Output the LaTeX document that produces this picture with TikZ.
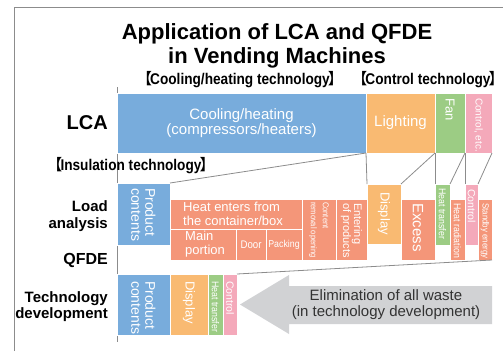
\documentclass[tikz,border=0pt]{standalone}
\usepackage{fontspec}
\setmainfont{Liberation Sans}
\newfontfamily\cjkfont{Noto Sans CJK JP}
\newfontfamily\narrowfont[FakeStretch=0.88]{Liberation Sans}
\usetikzlibrary{positioning}
\definecolor{lcablue}{HTML}{78ACDC}
\definecolor{lcaorange}{HTML}{F9BA72}
\definecolor{lcagreen}{HTML}{9CCC84}
\definecolor{lcapink}{HTML}{F4A9BA}
\definecolor{lcasalmon}{HTML}{F49679}
\definecolor{wastegray}{HTML}{D1D2D4}
\definecolor{rulegray}{HTML}{8C8C8C}
\newcommand\lcasize[1]{\fontsize{#1}{#1}\selectfont}
\newcommand\lcahead[1]{{\cjkfont\mdseries 【}\kern-0.12em#1\kern-0.12em{\cjkfont\mdseries 】}}
\begin{document}
\begin{tikzpicture}[x=1pt, y=-1pt,
  box/.style={fill=#1, draw=white, line width=0.6pt, outer sep=0pt, inner sep=0pt, anchor=north west},
  vlab/.style={text=white, rotate=-90, anchor=west, align=left, inner xsep=5pt, inner ysep=0pt},
  hlab/.style={text=white, align=center, inner sep=0pt},
  rowlab/.style={anchor=east, align=right, inner sep=0pt, font=\bfseries\fontsize{15}{17}\selectfont},
  headlab/.style={inner sep=0pt, font=\narrowfont\bfseries\fontsize{15.5}{18}\selectfont},
  link/.style={draw=rulegray, line width=0.8pt}]
\useasboundingbox (0,0) rectangle (503,351);
\draw[rulegray, line width=0.8pt] (14,351) -- (14,7) -- (503,7);
\draw[link] (117,87) -- (117,342);

\node[align=center, inner sep=0pt, font=\bfseries\fontsize{22}{24}\selectfont] (title) at (277,46) {Application of LCA and QFDE\\in Vending Machines};
\node[headlab] (coolhead) at (240,80) {\lcahead{Cooling/heating technology}};
\node[headlab] (ctlhead) at (428,80) {\lcahead{Control technology}};
\node[headlab] (inshead) at (131,166) {\lcahead{Insulation technology}};

\node[rowlab, font=\bfseries\lcasize{20}] (lca) at (108,123) {LCA};
\node[rowlab] (load) at (108,216) {Load\\analysis};
\node[rowlab, font=\bfseries\lcasize{16}] (qfde) at (108,260) {QFDE};
\node[rowlab, font=\bfseries\fontsize{15}{16}\selectfont] (techdev) at (108,307) {Technology\\development};

% LCA row
\node[box=lcablue, minimum width=249pt, minimum height=60pt] (cool) at (117,93) {};
\node[box=lcaorange, minimum width=69pt, minimum height=60pt, right=0pt of cool] (light) {};
\node[box=lcagreen, minimum width=30pt, minimum height=60pt, right=0pt of light] (fan) {};
\node[box=lcapink, minimum width=27pt, minimum height=60pt, right=0pt of fan] (ctl) {};
\node[hlab, font=\lcasize{15}] (cooltxt) at (cool.center) {Cooling/heating\\(compressors/heaters)};
\node[hlab, font=\lcasize{15}] (lighttxt) at (light.center) {Lighting};
\node[vlab, font=\lcasize{13}] (fantxt) at (fan.north) {Fan};
\node[vlab, font=\lcasize{10}] (ctltxt) at (ctl.north) {Control, etc.};

% load analysis row
\node[box=lcablue, minimum width=53pt, minimum height=62pt] (pcA) at (117,183) {};
\node[box=lcasalmon, minimum width=132pt, minimum height=30pt] (heat) at (170,199) {};
\node[box=lcasalmon, minimum width=66pt, minimum height=31pt] (main) at (170,229) {};
\node[box=lcasalmon, minimum width=30pt, minimum height=31pt] (door) at (236,229) {};
\node[box=lcasalmon, minimum width=36pt, minimum height=31pt] (pack) at (266,229) {};
\node[box=lcasalmon, minimum width=34pt, minimum height=61pt] (removal) at (302,199) {};
\node[box=lcasalmon, minimum width=31pt, minimum height=61pt] (entering) at (336,199) {};
\node[box=lcaorange, minimum width=34pt, minimum height=60pt] (dispA) at (367,184) {};
\node[box=lcasalmon, minimum width=34pt, minimum height=61pt] (excess) at (401,199) {};
\node[box=lcagreen, minimum width=15pt, minimum height=61pt] (htA) at (435,184) {};
\node[box=lcasalmon, minimum width=15pt, minimum height=61pt] (rad) at (450,199) {};
\node[box=lcapink, minimum width=13pt, minimum height=61pt] (ctlA) at (465,184) {};
\node[box=lcasalmon, minimum width=14pt, minimum height=61pt] (standby) at (478,199) {};

\node[vlab, font=\lcasize{14}] (pcAtxt) at (pcA.north) {Product\\contents};
\node[hlab, anchor=west, align=left, font=\fontsize{13}{14}\selectfont] (heattxt) at ([xshift=13pt]heat.west) {Heat enters from\\the container/box};
\node[hlab, anchor=west, align=left, font=\fontsize{13}{14}\selectfont] (maintxt) at ([xshift=15pt]main.west) {Main\\portion};
\node[hlab, font=\narrowfont\lcasize{11}] (doortxt) at (door.center) {Door};
\node[hlab, font=\narrowfont\lcasize{10}] (packtxt) at (pack.center) {Packing};
\node[vlab, inner xsep=3pt, font=\narrowfont\fontsize{8.5}{12}\selectfont] (removaltxt) at (removal.north) {Content\\removal opening};
\node[vlab, inner xsep=4pt, font=\lcasize{11}] (enteringtxt) at (entering.north) {Entering\\of products};
\node[vlab, font=\lcasize{13}] (dispAtxt) at ([yshift=-3pt]dispA.north) {Display};
\node[vlab, inner xsep=4pt, font=\lcasize{15}] (excesstxt) at (excess.north) {Excess};
\node[vlab, inner xsep=4pt, font=\narrowfont\lcasize{10}] (htAtxt) at (htA.north) {Heat transfer};
\node[vlab, inner xsep=4pt, font=\narrowfont\lcasize{10}] (radtxt) at (rad.north) {Heat radiation};
\node[vlab, font=\lcasize{10.5}] (ctlAtxt) at (ctlA.north) {Control};
\node[vlab, inner xsep=4pt, font=\narrowfont\lcasize{9}] (standbytxt) at (standby.north) {Standby energy};

% technology development row
\node[box=lcablue, minimum width=53pt, minimum height=61pt] (pcB) at (117,274) {};
\node[box=lcaorange, minimum width=38pt, minimum height=61pt, right=0pt of pcB] (dispB) {};
\node[box=lcagreen, minimum width=15pt, minimum height=61pt, right=0pt of dispB] (htB) {};
\node[box=lcapink, minimum width=14pt, minimum height=61pt, right=0pt of htB] (ctlB) {};
\node[vlab, inner xsep=7pt, font=\lcasize{14}] (pcBtxt) at (pcB.north) {Product\\contents};
\node[vlab, inner xsep=7pt, font=\lcasize{13}] (dispBtxt) at (dispB.north) {Display};
\node[vlab, inner xsep=7pt, font=\narrowfont\lcasize{10}] (htBtxt) at (htB.north) {Heat transfer};
\node[vlab, inner xsep=7pt, font=\lcasize{10.5}] (ctlBtxt) at (ctlB.north) {Control};

\fill[wastegray] (240,304.5) -- (289,275) -- (289,286) -- (492,286) -- (492,324) -- (289,324) -- (289,334) -- cycle;
\node[align=center, inner sep=0pt, text=black!80, font=\fontsize{15}{16}\selectfont] (waste) at (386,305) {Elimination of all waste\\(in technology development)};

\draw[link] (pcA.north east) -- (cool.south east);
\draw[link] (light.south west) -- (dispA.north west);
\draw[link] (light.south east) -- (dispA.north east);
\draw[link] (fan.south west) -- (htA.north west);
\draw[link] (fan.south east) -- (htA.north east);
\draw[link] (ctl.south west) -- (ctlA.north west);
\draw[link] (ctl.south east) -- (ctlA.north east);
\draw[link] (ctlB.north east) -- (standby.south east);
\end{tikzpicture}
\end{document}
